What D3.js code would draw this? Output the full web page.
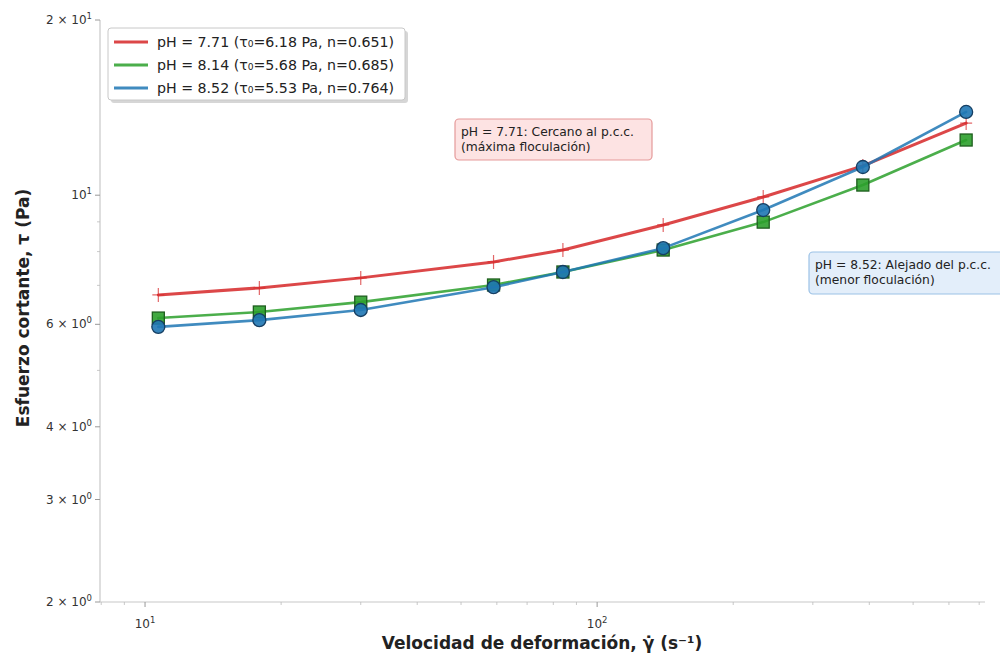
<!DOCTYPE html>
<html>
<head>
<meta charset="utf-8">
<script src="https://cdn.jsdelivr.net/npm/d3@7"></script>
<style>
  html, body { margin: 0; padding: 0; background: #fff; }
  svg { display: block; font-family: "DejaVu Sans", sans-serif; }
</style>
</head>
<body>
<svg id="chart" width="1000" height="657"></svg>
<script>
// Shear rate (1/s) at which each sample was measured
const shearRate = [10.7, 17.9, 30, 59, 84, 140, 233, 387, 655];

// Shear stress (Pa) per sample
const stressPH771 = [6.74, 6.93, 7.21, 7.68, 8.05, 8.89, 9.93, 11.23, 13.3];
const stressPH814 = [6.15, 6.30, 6.55, 7.01, 7.38, 8.05, 8.99, 10.41, 12.44];
const stressPH852 = [5.94, 6.10, 6.35, 6.95, 7.38, 8.11, 9.43, 11.18, 13.9];

const seriesNames = [
  "pH = 7.71 (τ₀=6.18 Pa, n=0.651)",
  "pH = 8.14 (τ₀=5.68 Pa, n=0.685)",
  "pH = 8.52 (τ₀=5.53 Pa, n=0.764)"
];

const xMajorTicks = [10, 100];
const xMinorTicks = [8, 9, 20, 30, 40, 50, 60, 70, 80, 90, 200, 300, 400, 500, 600, 700];
const yLabelledTicks = [2, 3, 4, 6, 10, 20];
const yMinorTicks = [5, 7, 8, 9];

const svg = d3.select("#chart");

const x = d3.scaleLog().domain([7.95, 721]).range([100, 985]);
const y = d3.scaleLog().domain([2, 20]).range([602, 20]);

const series = [
  { name: seriesNames[0], values: stressPH771, color: "#d62728", marker: "plus" },
  { name: seriesNames[1], values: stressPH814, color: "#2ca02c", marker: "square", edge: "#1e5e1e" },
  { name: seriesNames[2], values: stressPH852, color: "#1f77b4", marker: "circle", edge: "#163f63" }
];

// ---- axes ----
const axisColor = "#c8c8c8";
const tickColor = "#999";
const labelColor = "#333";

const gx = svg.append("g").attr("transform", "translate(0,602)");
gx.append("line").attr("x1", 100).attr("x2", 985).attr("stroke", axisColor).attr("stroke-width", 1.2);
gx.selectAll(".xmaj").data(xMajorTicks).join("line")
  .attr("x1", d => x(d)).attr("x2", d => x(d)).attr("y1", 0).attr("y2", 5)
  .attr("stroke", tickColor).attr("stroke-width", 1);
gx.selectAll(".xmin").data(xMinorTicks).join("line")
  .attr("x1", d => x(d)).attr("x2", d => x(d)).attr("y1", 0).attr("y2", 3)
  .attr("stroke", "#bbb").attr("stroke-width", 0.8);

function powerLabel(sel, mant, exp) {
  if (mant !== 1) sel.append("tspan").text(mant + " × 10");
  else sel.append("tspan").text("10");
  sel.append("tspan").attr("dy", -5).attr("font-size", 8.5).text(exp);
}

gx.selectAll(".xlab").data(xMajorTicks).join("text")
  .attr("x", d => x(d)).attr("y", 26)
  .attr("text-anchor", "middle").attr("font-size", 12).attr("fill", labelColor)
  .each(function(d) { powerLabel(d3.select(this), 1, String(Math.round(Math.log10(d)))); });

const gy = svg.append("g").attr("transform", "translate(100,0)");
gy.append("line").attr("y1", 20).attr("y2", 602).attr("stroke", axisColor).attr("stroke-width", 1.2);
gy.selectAll(".ymaj").data(yLabelledTicks).join("line")
  .attr("y1", d => y(d)).attr("y2", d => y(d)).attr("x1", 0).attr("x2", -5)
  .attr("stroke", tickColor).attr("stroke-width", 1);
gy.selectAll(".ymin").data(yMinorTicks).join("line")
  .attr("y1", d => y(d)).attr("y2", d => y(d)).attr("x1", 0).attr("x2", -3)
  .attr("stroke", "#bbb").attr("stroke-width", 0.8);
gy.selectAll(".ylab").data(yLabelledTicks).join("text")
  .attr("x", -8).attr("y", d => y(d) + 4)
  .attr("text-anchor", "end").attr("font-size", 12).attr("fill", labelColor)
  .each(function(d) {
    const e = Math.floor(Math.log10(d) + 1e-9);
    const m = Math.round(d / Math.pow(10, e));
    powerLabel(d3.select(this), m, String(e));
  });

// axis titles
svg.append("text")
  .attr("x", 542).attr("y", 649).attr("text-anchor", "middle")
  .attr("font-size", 17).attr("font-weight", "bold").attr("fill", "#222")
  .text("Velocidad de deformación, γ̇ (s⁻¹)");
svg.append("text")
  .attr("transform", "translate(29,308) rotate(-90)").attr("text-anchor", "middle")
  .attr("font-size", 17).attr("font-weight", "bold").attr("fill", "#222")
  .text("Esfuerzo cortante, τ (Pa)");

// ---- series ----
const line = d3.line().x(d => x(d[0])).y(d => y(d[1]));

series.forEach(s => {
  const pts = shearRate.map((g, i) => [g, s.values[i]]);
  svg.append("path").datum(pts).attr("d", line)
    .attr("fill", "none").attr("stroke", s.color)
    .attr("stroke-width", s.marker === "plus" ? 3 : 2.6)
    .attr("stroke-opacity", 0.85).attr("stroke-linecap", "round").attr("stroke-linejoin", "round");
  const g = svg.append("g");
  if (s.marker === "plus") {
    g.selectAll("path").data(pts).join("path")
      .attr("d", d => `M${x(d[0]) - 6},${y(d[1])}h12M${x(d[0])},${y(d[1]) - 7}v14`)
      .attr("stroke", s.color).attr("stroke-width", 1.2).attr("stroke-opacity", 0.7);
  } else if (s.marker === "square") {
    g.selectAll("rect").data(pts).join("rect")
      .attr("x", d => x(d[0]) - 6).attr("y", d => y(d[1]) - 6)
      .attr("width", 12).attr("height", 12)
      .attr("fill", s.color).attr("fill-opacity", 0.9)
      .attr("stroke", s.edge).attr("stroke-width", 1.3);
  } else {
    g.selectAll("circle").data(pts).join("circle")
      .attr("cx", d => x(d[0])).attr("cy", d => y(d[1])).attr("r", 6.5)
      .attr("fill", s.color).attr("fill-opacity", 0.9)
      .attr("stroke", s.edge).attr("stroke-width", 1.3);
  }
});

// ---- annotations ----
function noteBox(x0, y0, w, h, fill, stroke, lines) {
  const g = svg.append("g");
  g.append("rect").attr("x", x0).attr("y", y0).attr("width", w).attr("height", h)
    .attr("rx", 4).attr("fill", fill).attr("stroke", stroke).attr("stroke-width", 1.2);
  lines.forEach((t, i) => {
    g.append("text").attr("x", x0 + 6).attr("y", y0 + 17 + i * 15)
      .attr("font-size", 12.3).attr("fill", "#222").text(t);
  });
}
noteBox(455, 119, 197, 41, "#fde3e3", "#e59a9a",
  ["pH = 7.71: Cercano al p.c.c.", "(máxima floculación)"]);
noteBox(809, 252, 200, 42, "#e3eefa", "#9cc2e6",
  ["pH = 8.52: Alejado del p.c.c.", "(menor floculación)"]);

// ---- legend ----
const lg = svg.append("g");
lg.append("rect").attr("x", 111).attr("y", 31).attr("width", 297).attr("height", 72)
  .attr("rx", 3).attr("fill", "#bbb").attr("opacity", 0.6);
lg.append("rect").attr("x", 108).attr("y", 28).attr("width", 297).attr("height", 72)
  .attr("rx", 3).attr("fill", "#fff").attr("stroke", "#c8c8c8").attr("stroke-width", 1);
series.forEach((s, i) => {
  const cy = 42 + i * 23;
  lg.append("line").attr("x1", 114).attr("x2", 148).attr("y1", cy).attr("y2", cy)
    .attr("stroke", s.color).attr("stroke-width", 3).attr("stroke-opacity", 0.85);
  lg.append("text").attr("x", 157).attr("y", cy + 5)
    .attr("font-size", 14.2).attr("fill", "#222").text(s.name);
});
</script>
</body>
</html>
